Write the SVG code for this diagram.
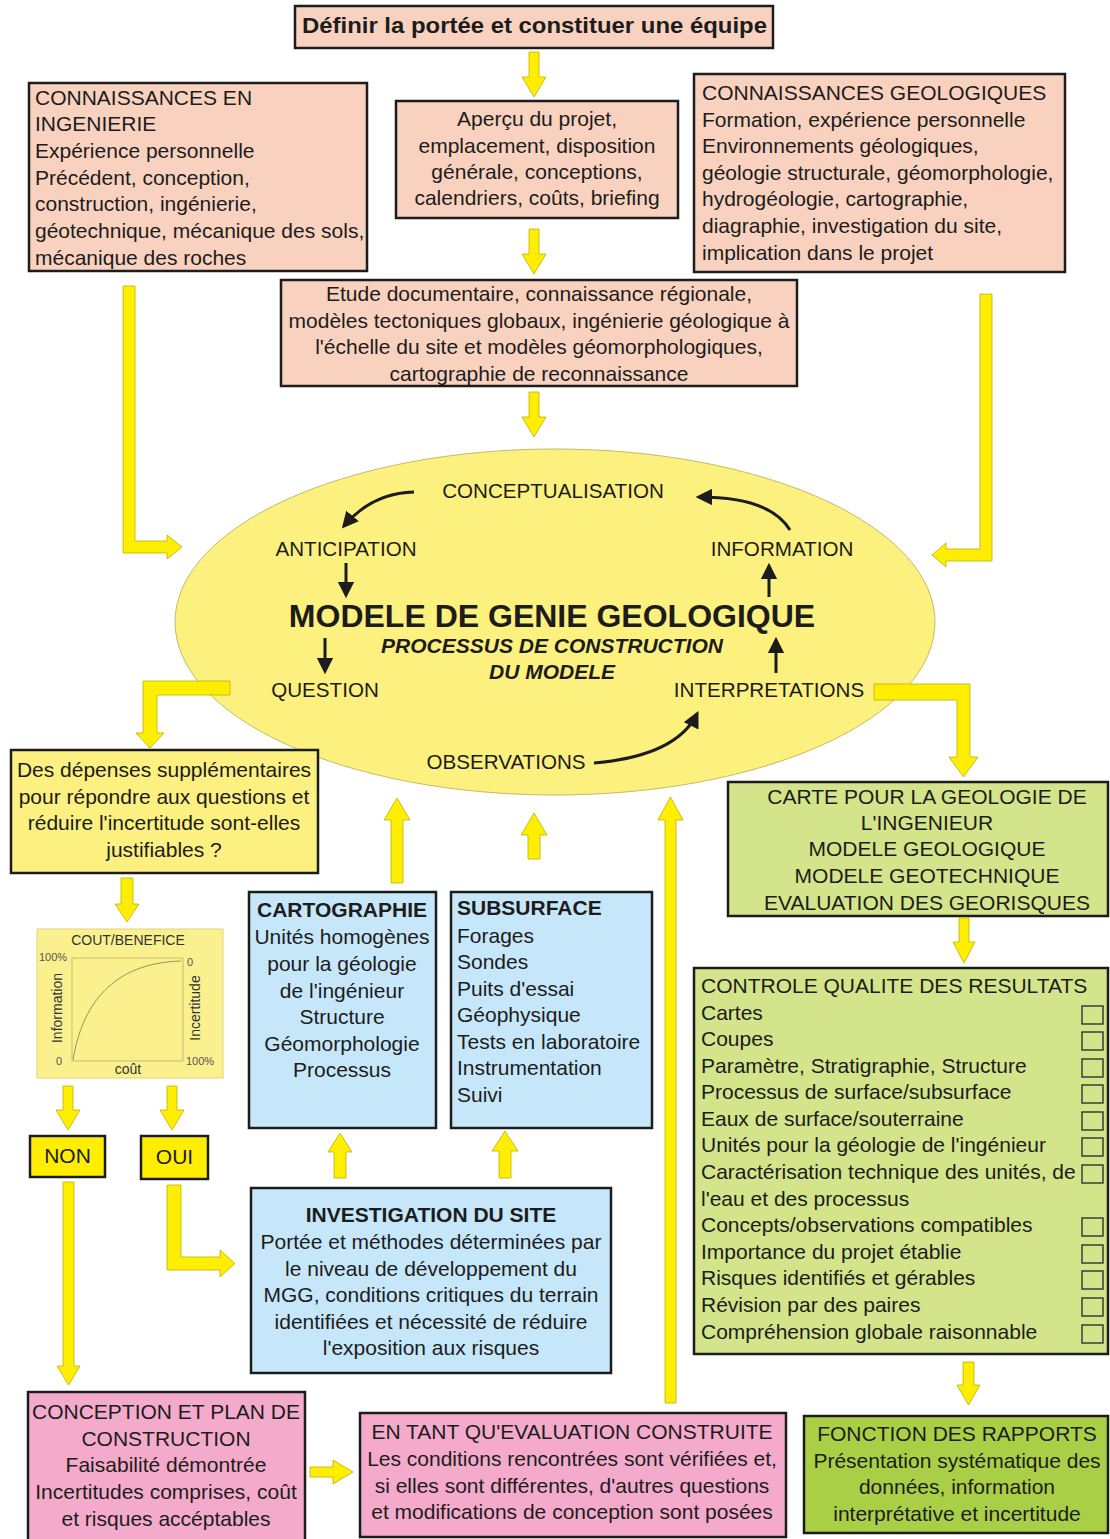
<svg xmlns="http://www.w3.org/2000/svg" width="1110" height="1539" viewBox="0 0 1110 1539">
<style>
  .bx{stroke:#1c1c1c;stroke-width:2.5}
  .sal{fill:#F9D2BF}
  .yel{fill:#FBF080}
  .blu{fill:#C6E7F9}
  .grn{fill:#D3E48A}
  .grn2{fill:#A9CF47}
  .pnk{fill:#F4ABCB}
  .yb{fill:#FFEE00}
  text{font-family:"Liberation Sans",Arial,sans-serif;fill:#1c1c1c}
  .t{font-size:21px}
  .c{text-anchor:middle}
  .b{font-weight:bold}
  .e{font-size:20.6px}
  .ya{fill:#FFEE00;stroke:#BDB000;stroke-width:0.8}
  .ba{fill:none;stroke:#1c1c1c;stroke-width:3}
  .cb{fill:none;stroke:#333;stroke-width:1.4}
  .sm{font-size:14px;fill:#333}
  .xs{font-size:11px;fill:#555}
</style>
<defs>
  <marker id="ah" viewBox="0 0 10 10" refX="8" refY="5" markerWidth="5.5" markerHeight="5.5" orient="auto" markerUnits="strokeWidth">
    <path d="M0,0 L10,5 L0,10 Z" fill="#1c1c1c"/>
  </marker>
</defs>

<!-- ellipse node -->
<g id="model">
  <ellipse cx="555" cy="622" rx="380" ry="173" fill="#FCF17E" stroke="#B8AA4E" stroke-width="0.8"/>
  <text class="e c" x="553" y="498">CONCEPTUALISATION</text>
  <text class="e c" x="346" y="556">ANTICIPATION</text>
  <text class="e c" x="782" y="556">INFORMATION</text>
  <text class="b c" x="552" y="627" font-size="32">MODELE DE GENIE GEOLOGIQUE</text>
  <text class="b c" x="552" y="653" font-size="21" font-style="italic">PROCESSUS DE CONSTRUCTION</text>
  <text class="b c" x="552" y="679" font-size="21" font-style="italic">DU MODELE</text>
  <text class="e c" x="325" y="697">QUESTION</text>
  <text class="e c" x="769" y="697">INTERPRETATIONS</text>
  <text class="e c" x="506" y="769">OBSERVATIONS</text>
  <g id="cycle-arrows">
    <path class="ba" d="M414,492 Q372,493 344,526" marker-end="url(#ah)"/>
    <path class="ba" d="M346,563 L346,595" marker-end="url(#ah)"/>
    <path class="ba" d="M325,638 L325,671" marker-end="url(#ah)"/>
    <path class="ba" d="M594,763 Q676,756 697,714" marker-end="url(#ah)"/>
    <path class="ba" d="M776,673 L776,640" marker-end="url(#ah)"/>
    <path class="ba" d="M769,597 L769,566" marker-end="url(#ah)"/>
    <path class="ba" d="M790,530 Q770,497 699,497" marker-end="url(#ah)"/>
  </g>
</g>

<g id="title">
  <rect class="bx sal" x="295" y="6" width="478" height="42"/>
  <text class="b" x="302" y="33" font-size="22" textLength="465" lengthAdjust="spacingAndGlyphs">Définir la portée et constituer une équipe</text>
</g>

<g id="ingenierie">
  <rect class="bx sal" x="29" y="83" width="338" height="188"/>
  <text class="t" x="35" y="104.5">CONNAISSANCES EN</text>
  <text class="t" x="35" y="130.5">INGENIERIE</text>
  <text class="t" x="35" y="157.5">Expérience personnelle</text>
  <text class="t" x="35" y="184.5">Précédent, conception,</text>
  <text class="t" x="35" y="210.5">construction, ingénierie,</text>
  <text class="t" x="35" y="237.5">géotechnique, mécanique des sols,</text>
  <text class="t" x="35" y="264.5">mécanique des roches</text>
</g>

<g id="apercu">
  <rect class="bx sal" x="396" y="101" width="282" height="117"/>
  <text class="t c" x="537" y="125.5">Aperçu du projet,</text>
  <text class="t c" x="537" y="152.5">emplacement, disposition</text>
  <text class="t c" x="537" y="178.5">générale, conceptions,</text>
  <text class="t c" x="537" y="204.5">calendriers, coûts, briefing</text>
</g>

<g id="geologie">
  <rect class="bx sal" x="694" y="74" width="371" height="198"/>
  <text class="t" x="702" y="99.5">CONNAISSANCES GEOLOGIQUES</text>
  <text class="t" x="702" y="126.5">Formation, expérience personnelle</text>
  <text class="t" x="702" y="152.5">Environnements géologiques,</text>
  <text class="t" x="702" y="179.5">géologie structurale, géomorphologie,</text>
  <text class="t" x="702" y="205.5">hydrogéologie, cartographie,</text>
  <text class="t" x="702" y="232.5">diagraphie, investigation du site,</text>
  <text class="t" x="702" y="259.5">implication dans le projet</text>
</g>

<g id="etude">
  <rect class="bx sal" x="281" y="280" width="516" height="106"/>
  <text class="t c" x="539" y="300.5">Etude documentaire, connaissance régionale,</text>
  <text class="t c" x="539" y="327.5">modèles tectoniques globaux, ingénierie géologique à</text>
  <text class="t c" x="539" y="353.5">l'échelle du site et modèles géomorphologiques,</text>
  <text class="t c" x="539" y="380.5">cartographie de reconnaissance</text>
</g>

<g id="depenses">
  <rect class="bx yel" x="11" y="750" width="307" height="123"/>
  <text class="t c" x="164" y="776.5">Des dépenses supplémentaires</text>
  <text class="t c" x="164" y="803.5">pour répondre aux questions et</text>
  <text class="t c" x="164" y="829.5">réduire l'incertitude sont-elles</text>
  <text class="t c" x="164" y="856.5">justifiables ?</text>
</g>

<g id="cout-benefice">
  <rect x="37" y="929" width="186" height="149" fill="#FAF08E" stroke="#E0D67A" stroke-width="1"/>
  <text class="sm c" x="128" y="945">COUT/BENEFICE</text>
  <rect x="72" y="958" width="111" height="103" fill="none" stroke="#C9BD70" stroke-width="1"/>
  <path d="M73,1060 C82,1005 112,963 181,961" fill="none" stroke="#9A9060" stroke-width="1"/>
  <text class="xs" x="39" y="961">100%</text>
  <text class="xs" x="56" y="1065">0</text>
  <text class="xs" x="187" y="966">0</text>
  <text class="xs" x="186" y="1065">100%</text>
  <text class="sm c" x="128" y="1074">coût</text>
  <text class="sm c" transform="translate(62,1008) rotate(-90)">Information</text>
  <text class="sm c" transform="translate(200,1008) rotate(-90)">Incertitude</text>
</g>

<g id="non">
  <rect class="bx yb" x="30" y="1136" width="75" height="41"/>
  <text class="t c" x="67.5" y="1163">NON</text>
</g>
<g id="oui">
  <rect class="bx yb" x="141" y="1136" width="67" height="43"/>
  <text class="t c" x="174.5" y="1164">OUI</text>
</g>

<g id="cartographie">
  <rect class="bx blu" x="249" y="892" width="187" height="236"/>
  <text class="t c b" x="342" y="917">CARTOGRAPHIE</text>
  <text class="t c" x="342" y="943.5">Unités homogènes</text>
  <text class="t c" x="342" y="970.5">pour la géologie</text>
  <text class="t c" x="342" y="997.5">de l'ingénieur</text>
  <text class="t c" x="342" y="1023.5">Structure</text>
  <text class="t c" x="342" y="1050.5">Géomorphologie</text>
  <text class="t c" x="342" y="1076.5">Processus</text>
</g>

<g id="subsurface">
  <rect class="bx blu" x="451" y="892" width="201" height="236"/>
  <text class="t b" x="457" y="915">SUBSURFACE</text>
  <text class="t" x="457" y="942.5">Forages</text>
  <text class="t" x="457" y="968.5">Sondes</text>
  <text class="t" x="457" y="995.5">Puits d'essai</text>
  <text class="t" x="457" y="1021.5">Géophysique</text>
  <text class="t" x="457" y="1048.5">Tests en laboratoire</text>
  <text class="t" x="457" y="1074.5">Instrumentation</text>
  <text class="t" x="457" y="1101.5">Suivi</text>
</g>

<g id="investigation">
  <rect class="bx blu" x="251" y="1188" width="360" height="185"/>
  <text class="t c b" x="431" y="1222">INVESTIGATION DU SITE</text>
  <text class="t c" x="431" y="1248.5">Portée et méthodes déterminées par</text>
  <text class="t c" x="431" y="1275.5">le niveau de développement du</text>
  <text class="t c" x="431" y="1301.5">MGG, conditions critiques du terrain</text>
  <text class="t c" x="431" y="1328.5">identifiées et nécessité de réduire</text>
  <text class="t c" x="431" y="1354.5">l'exposition aux risques</text>
</g>

<g id="carte">
  <rect class="bx grn" x="728" y="782" width="380" height="134"/>
  <text class="t c" x="927" y="803.5">CARTE POUR LA GEOLOGIE DE</text>
  <text class="t c" x="927" y="829.5">L'INGENIEUR</text>
  <text class="t c" x="927" y="855.5">MODELE GEOLOGIQUE</text>
  <text class="t c" x="927" y="882.5">MODELE GEOTECHNIQUE</text>
  <text class="t c" x="927" y="909.5">EVALUATION DES GEORISQUES</text>
</g>

<g id="controle">
  <rect class="bx grn" x="694" y="968" width="414" height="386"/>
  <text class="t" x="701" y="992.5">CONTROLE QUALITE DES RESULTATS</text>
  <text class="t" x="701" y="1019.5">Cartes</text>
  <text class="t" x="701" y="1045.5">Coupes</text>
  <text class="t" x="701" y="1072.5">Paramètre, Stratigraphie, Structure</text>
  <text class="t" x="701" y="1098.5">Processus de surface/subsurface</text>
  <text class="t" x="701" y="1125.5">Eaux de surface/souterraine</text>
  <text class="t" x="701" y="1151.5">Unités pour la géologie de l'ingénieur</text>
  <text class="t" x="701" y="1178.5">Caractérisation technique des unités, de</text>
  <text class="t" x="701" y="1205.5">l'eau et des processus</text>
  <text class="t" x="701" y="1231.5">Concepts/observations compatibles</text>
  <text class="t" x="701" y="1258.5">Importance du projet établie</text>
  <text class="t" x="701" y="1284.5">Risques identifiés et gérables</text>
  <text class="t" x="701" y="1311.5">Révision par des paires</text>
  <text class="t" x="701" y="1338.5">Compréhension globale raisonnable</text>
  <rect class="cb" x="1082" y="1006" width="21" height="18"/>
  <rect class="cb" x="1082" y="1032" width="21" height="18"/>
  <rect class="cb" x="1082" y="1059" width="21" height="18"/>
  <rect class="cb" x="1082" y="1085" width="21" height="18"/>
  <rect class="cb" x="1082" y="1112" width="21" height="18"/>
  <rect class="cb" x="1082" y="1138" width="21" height="18"/>
  <rect class="cb" x="1082" y="1165" width="21" height="18"/>
  <rect class="cb" x="1082" y="1218" width="21" height="18"/>
  <rect class="cb" x="1082" y="1245" width="21" height="18"/>
  <rect class="cb" x="1082" y="1271" width="21" height="18"/>
  <rect class="cb" x="1082" y="1298" width="21" height="18"/>
  <rect class="cb" x="1082" y="1325" width="21" height="18"/>
</g>

<g id="conception">
  <rect class="bx pnk" x="28" y="1392" width="277" height="160"/>
  <text class="t c" x="166" y="1418.5">CONCEPTION ET PLAN DE</text>
  <text class="t c" x="166" y="1445.5">CONSTRUCTION</text>
  <text class="t c" x="166" y="1471.5">Faisabilité démontrée</text>
  <text class="t c" x="166" y="1498.5">Incertitudes comprises, coût</text>
  <text class="t c" x="166" y="1525.5">et risques accéptables</text>
</g>

<g id="entant">
  <rect class="bx pnk" x="360" y="1413" width="426" height="124"/>
  <text class="t c" x="572" y="1438.5">EN TANT QU'EVALUATION CONSTRUITE</text>
  <text class="t c" x="572" y="1465.5">Les conditions rencontrées sont vérifiées et,</text>
  <text class="t c" x="572" y="1492.5">si elles sont différentes, d'autres questions</text>
  <text class="t c" x="572" y="1518.5">et modifications de conception sont posées</text>
</g>

<g id="fonction">
  <rect class="bx grn2" x="804" y="1416" width="304" height="117"/>
  <text class="t c" x="957" y="1440.5">FONCTION DES RAPPORTS</text>
  <text class="t c" x="957" y="1467.5">Présentation systématique des</text>
  <text class="t c" x="957" y="1493.5">données, information</text>
  <text class="t c" x="957" y="1520.5">interprétative et incertitude</text>
</g>

<!-- yellow connectors -->
<g id="connectors">
  <polygon class="ya" points="529,52 539,52 539,77 546,77 534,97 522,77 529,77"/>
  <polygon class="ya" points="529,229 539,229 539,254 546,254 534,274 522,254 529,254"/>
  <polygon class="ya" points="529,392 539,392 539,417 546,417 534,437 522,417 529,417"/>
  <polygon class="ya" points="123,286 135,286 135,541 167,541 167,535 182,547 167,559 167,553 123,553"/>
  <polygon class="ya" points="980,294 992,294 992,561 946,561 946,567 932,555 946,543 946,549 980,549"/>
  <polygon class="ya" points="230,681 230,695 157,695 157,733 164,733 150,748 136,733 143,733 143,681"/>
  <polygon class="ya" points="121,878 133,878 133,904 139,904 127,922 115,904 121,904"/>
  <polygon class="ya" points="63,1086 73,1086 73,1110 80,1110 68,1130 56,1110 63,1110"/>
  <polygon class="ya" points="167,1086 177,1086 177,1110 184,1110 172,1130 160,1110 167,1110"/>
  <polygon class="ya" points="63,1182 74,1182 74,1366 80,1366 68.5,1385 57,1366 63,1366"/>
  <polygon class="ya" points="167,1185 181,1185 181,1257 220,1257 220,1250 235,1263.5 220,1277 220,1270 167,1270"/>
  <polygon class="ya" points="310,1467 333,1467 333,1460 353,1472 333,1484 333,1477 310,1477"/>
  <polygon class="ya" points="334,1178 346,1178 346,1152 352,1152 340,1133 328,1152 334,1152"/>
  <polygon class="ya" points="499,1178 511,1178 511,1151 518,1151 505,1131 492,1151 499,1151"/>
  <polygon class="ya" points="391,883 403,883 403,820 410,820 397,798 384,820 391,820"/>
  <polygon class="ya" points="528,859 540,859 540,835 547,835 534,813 521,835 528,835"/>
  <polygon class="ya" points="665,1403 676,1403 676,820 683,820 670.5,797 658,820 665,820"/>
  <polygon class="ya" points="874,684 970,684 970,757 978,757 963.5,777 949,757 957,757 957,700 874,700"/>
  <polygon class="ya" points="959,918 969,918 969,942 975,942 964,963 953,942 959,942"/>
  <polygon class="ya" points="963,1362 974,1362 974,1385 980,1385 968.5,1405 957,1385 963,1385"/>
</g>
</svg>
